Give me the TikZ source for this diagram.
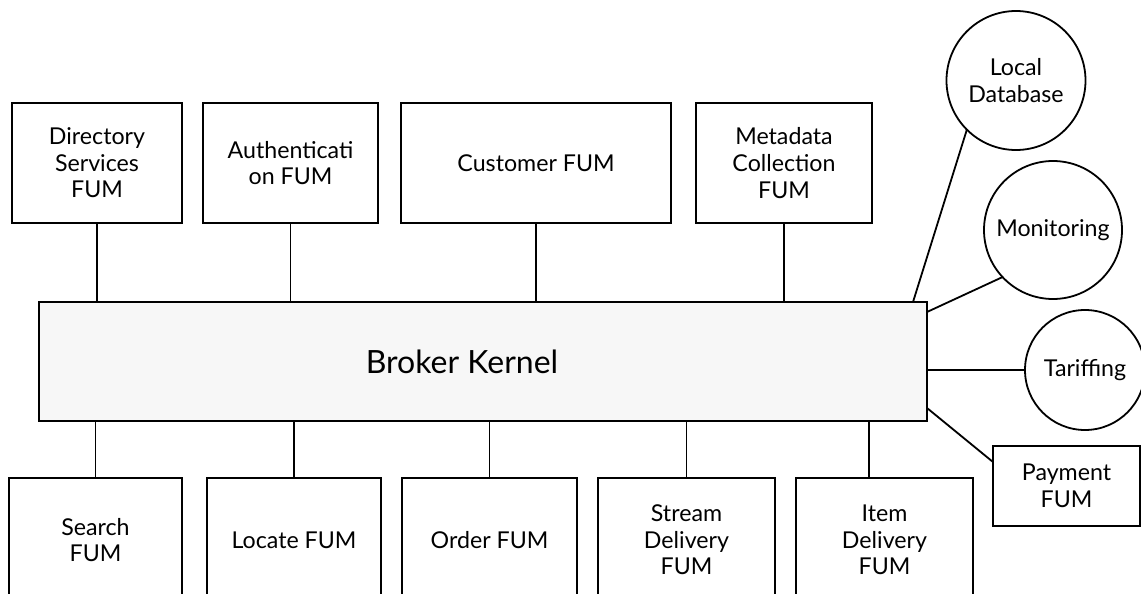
\documentclass[tikz,border=0pt]{standalone}
\usepackage{fontspec}
\setmainfont{Lato}
\usepackage{tikz}
\usetikzlibrary{shapes, positioning}

\begin{document}
\begin{tikzpicture}[
        node distance=10.5pt,
        module/.style={
            rectangle,
            draw=black,
            line width=0.9pt,
            align=center,
            inner sep=1pt,
            outer sep=0pt,
            minimum height=60pt,
            font=\fontsize{11.6}{13.3}\selectfont
        },
        lowmodule/.style={
            module,
            minimum height=62pt
        },
        service/.style={
            circle,
            draw=black,
            line width=0.9pt,
            align=center,
            inner sep=0pt,
            outer sep=0pt,
            font=\fontsize{11.6}{13.3}\selectfont
        },
        kernelbox/.style={
            rectangle,
            draw=black,
            line width=1.3pt,
            fill=black!3,
            outer sep=0pt,
            minimum width=444pt,
            minimum height=59.5pt
        },
        link/.style={
            line width=0.9pt,
            black
        }
    ]
        \useasboundingbox (0,0) rectangle (570.5pt,-297pt);

        % Nodes
        \node[kernelbox] (kernel) at (241.5pt,-180.75pt) {};
        \node[font=\fontsize{16}{18}\selectfont] (kernellabel) at ([xshift=-10.5pt]kernel.center) {Broker Kernel};

        \node[module, minimum width=85pt] (directory) at (48.5pt,-81.5pt) {Directory\\Services\\FUM};
        \node[module, minimum width=87.5pt, right=of directory] (auth) {Authenticati\\on FUM};
        \node[module, minimum width=135pt, right=11.5pt of auth] (customer) {Customer FUM};
        \node[module, minimum width=88pt, right=12.5pt of customer] (metadata) {Metadata\\Collection\\FUM};

        \node[lowmodule, minimum width=86.5pt] (search) at (47.75pt,-270pt) {Search\\FUM};
        \node[lowmodule, minimum width=87pt, right=12.5pt of search] (locate) {Locate FUM};
        \node[lowmodule, minimum width=87.5pt, right=of locate] (order) {Order FUM};
        \node[lowmodule, minimum width=88.5pt, right=of order] (stream) {Stream\\Delivery\\FUM};
        \node[lowmodule, minimum width=88.5pt, right=of stream] (item) {Item\\Delivery\\FUM};

        \node[service, minimum size=69.5pt] (localdb) at (508pt,-40.25pt) {Local\\Database};
        \node[service, minimum size=69pt] (monitoring) at (526.5pt,-115pt) {Monitoring};
        \node[service, minimum size=60pt] (tariffing) at (542.5pt,-185pt) {Tariffing};
        \node[module, minimum width=73.5pt, minimum height=40pt] (payment) at (533.25pt,-243pt) {Payment\\FUM};

        % Edges
        \draw[link] (directory.south) -- (directory.south |- kernel.north);
        \draw[link] (auth.south) -- (auth.south |- kernel.north);
        \draw[link] (customer.south) -- (customer.south |- kernel.north);
        \draw[link] (metadata.south) -- (metadata.south |- kernel.north);

        \draw[link] (search.north) -- (search.north |- kernel.south);
        \draw[link] (locate.north) -- (locate.north |- kernel.south);
        \draw[link] (order.north) -- (order.north |- kernel.south);
        \draw[link] (stream.north) -- (stream.north |- kernel.south);
        \draw[link] ([xshift=-7.75pt]item.north) -- ([xshift=-7.75pt]item.north |- kernel.south);

        \draw[link] ([xshift=-7pt]kernel.north east) -- (localdb.225);
        \draw[link] ([yshift=-5pt]kernel.north east) -- (monitoring.223);
        \draw[link] (tariffing.west -| kernel.east) -- (tariffing.west);
        \draw[link] ([yshift=6.5pt]kernel.south east) -- ([yshift=-8pt]payment.north west);
    \end{tikzpicture}
\end{document}
